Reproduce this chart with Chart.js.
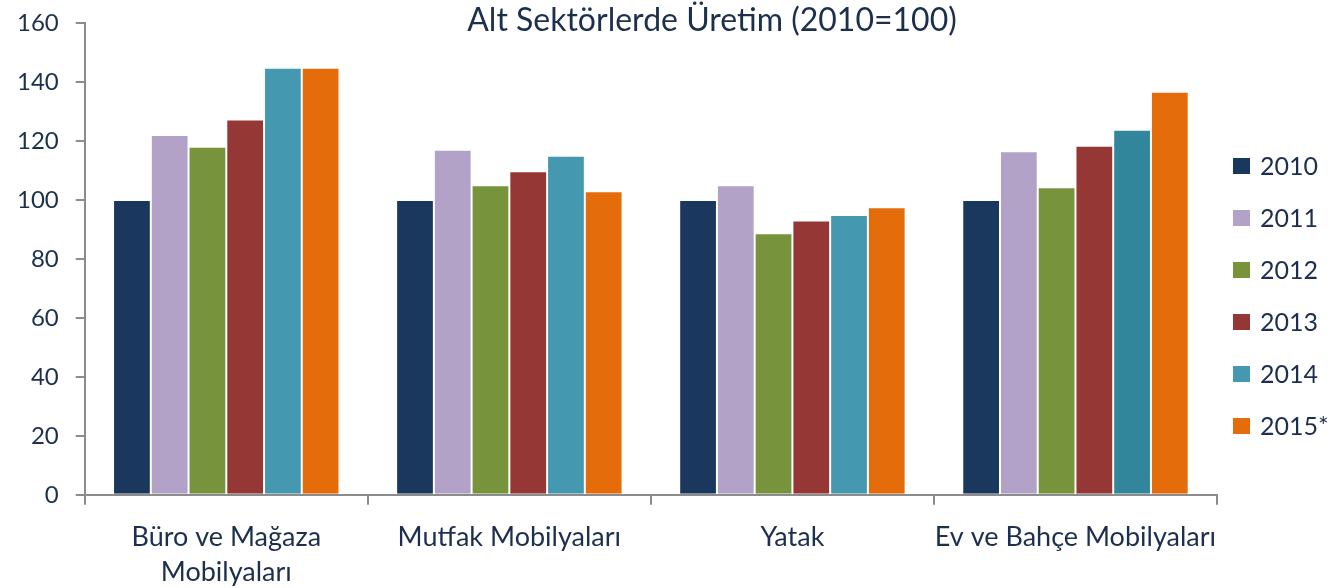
<!DOCTYPE html>
<html>
<head>
<meta charset="utf-8">
<title>Alt Sektörlerde Üretim</title>
<script src="https://cdn.jsdelivr.net/npm/chart.js@4"></script>
<style>
    body { margin: 0; background: #fff; }
</style>
</head>
<body>
<canvas id="productionChart" width="1335" height="588"></canvas>
<script>
// Chart data
const categories = [["Büro ve Mağaza", "Mobilyaları"], "Mutfak Mobilyaları", "Yatak", "Ev ve Bahçe Mobilyaları"];
const years = ["2010", "2011", "2012", "2013", "2014", "2015*"];
const values2010 = [100, 100, 100, 100];
const values2011 = [122, 117, 105, 116.5];
const values2012 = [118, 105, 88.7, 104.3];
const values2013 = [127.3, 109.7, 93, 118.4];
const values2014 = [144.8, 115, 94.9, 123.8];
const values2015 = [144.8, 102.9, 97.5, 136.7];
const yTicks = [0, 20, 40, 60, 80, 100, 120, 140, 160];

const textColor = '#1c2f4d';
const axisColor = '#8c8c8c';
const fontName = 'Lato';

// Title sits inside the plot height, so it is drawn by hand
const titlePlugin = {
    id: 'sideTitle',
    afterDraw: function (chart) {
        const ctx = chart.ctx;
        ctx.save();
        ctx.font = '32px ' + fontName;
        ctx.fillStyle = textColor;
        ctx.textAlign = 'center';
        ctx.textBaseline = 'middle';
        ctx.fillText('Alt Sektörlerde Üretim (2010=100)', 712, 21);
        ctx.restore();
    }
};

// Legend column on the right, built from the datasets
const legendPlugin = {
    id: 'sideLegend',
    afterDraw: function (chart) {
        const ctx = chart.ctx;
        const left = chart.chartArea.right + 16;
        ctx.save();
        ctx.font = '25px ' + fontName;
        ctx.textBaseline = 'middle';
        chart.data.datasets.forEach(function (ds, i) {
            const c = Array.isArray(ds.backgroundColor) ? ds.backgroundColor[0] : ds.backgroundColor;
            const cy = 166 + i * 52;
            ctx.fillStyle = c;
            ctx.fillRect(left, cy - 8, 17, 16);
            ctx.fillStyle = textColor;
            ctx.fillText(ds.label, left + 27, cy + 1);
        });
        ctx.restore();
    }
};

function bar(label, data, color) {
    return {
        label: label,
        data: data,
        backgroundColor: color,
        borderColor: 'rgba(255,255,255,0.45)',
        borderWidth: 1,
        categoryPercentage: 0.8,
        barPercentage: 1.0
    };
}

const chartData = {
    labels: categories,
    datasets: [
        bar(years[0], values2010, '#1a375e'),
        bar(years[1], values2011, '#b3a2c7'),
        bar(years[2], values2012, '#77933c'),
        bar(years[3], values2013, '#953735'),
        bar(years[4], values2014, ['#4498b0', '#4498b0', '#4498b0', '#31869b']),
        bar(years[5], values2015, '#e46c0a')
    ]
};

const chartConfig = {
    type: 'bar',
    data: chartData,
    plugins: [titlePlugin, legendPlugin],
    options: {
        responsive: false,
        animation: false,
        devicePixelRatio: 1,
        layout: {
            padding: { top: 0, left: 0, right: 118, bottom: -17 }
        },
        plugins: {
            tooltip: { enabled: false },
            title: { display: false },
            legend: { display: false }
        },
        scales: {
            x: {
                grid: {
                    display: true,
                    offset: true,
                    drawOnChartArea: false,
                    drawTicks: true,
                    tickLength: 10,
                    color: axisColor,
                    lineWidth: 2
                },
                border: { display: true, color: axisColor, width: 2 },
                ticks: {
                    color: textColor,
                    font: { family: fontName, size: 27, lineHeight: 1.3 },
                    padding: 15,
                    maxRotation: 0,
                    autoSkip: false
                }
            },
            y: {
                min: 0,
                max: 160,
                afterBuildTicks: function (axis) {
                    axis.ticks = yTicks.map(function (v) { return { value: v }; });
                },
                grid: {
                    display: true,
                    drawOnChartArea: false,
                    drawTicks: true,
                    tickLength: 9,
                    color: axisColor,
                    lineWidth: 2
                },
                border: { display: true, color: axisColor, width: 2 },
                ticks: {
                    color: textColor,
                    // small line height keeps the top label from pushing the plot down
                    font: { family: fontName, size: 24, lineHeight: 0.5 },
                    padding: 17
                }
            }
        }
    }
};

const ctx = document.getElementById('productionChart').getContext('2d');
new Chart(ctx, chartConfig);
</script>
</body>
</html>
